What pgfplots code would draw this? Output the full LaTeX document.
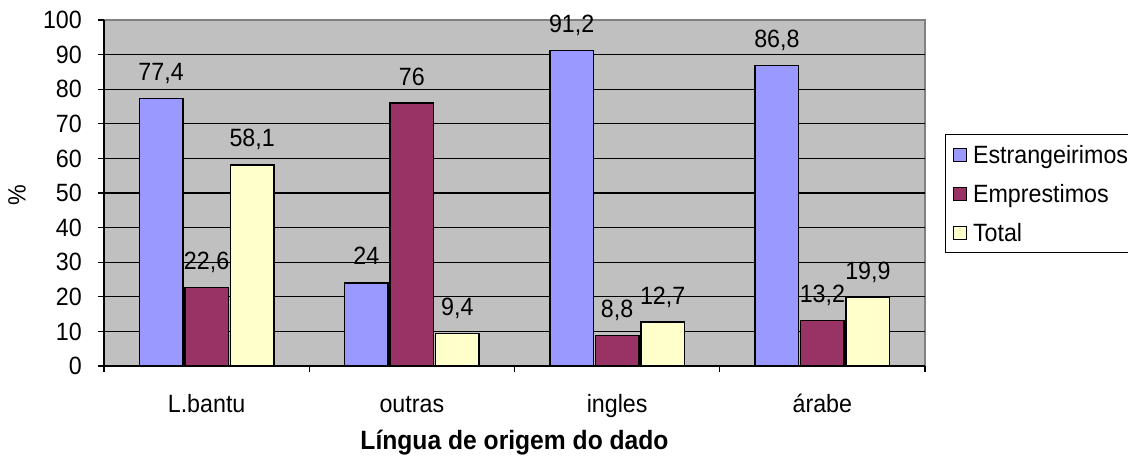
\documentclass[border=0pt]{standalone}
\usepackage{fontspec}
\setmainfont[FakeStretch=0.93]{Liberation Sans}
\usepackage{pgfplots}
\pgfplotsset{compat=1.18}
\definecolor{cblue}{HTML}{9999FF}
\definecolor{cmaroon}{HTML}{993366}
\definecolor{cyellow}{HTML}{FFFFCC}
\definecolor{cbg}{HTML}{C0C0C0}
\newcommand{\cf}{\fontsize{25}{28}\selectfont}
\begin{document}
\begin{tikzpicture}[x=1pt,y=1pt]
\useasboundingbox (0,0) rectangle (1128,458);
\begin{axis}[
  at={(104pt,92pt)}, anchor=south west,
  width=821pt, height=346pt, scale only axis,
  ybar=2pt, bar width=43.5pt,
  xmin=-0.5, xmax=3.5, ymin=0, ymax=100,
  clip=false,
  axis lines*=left,
  axis line style={black, line width=1.3pt},
  axis background/.style={fill=cbg, draw=gray, line width=1.2pt},
  xtick={0,1,2,3},
  xticklabels={L.bantu, outras, ingles, árabe},
  minor xtick={-0.5,0.5,1.5,2.5,3.5},
  ytick={0,10,...,90},
  extra y ticks={100},
  extra y tick style={grid=none},
  ymajorgrids, grid style={black, line width=1.3pt},
  tick align=outside,
  major tick length=6pt, minor tick length=6pt,
  x tick style={draw=none},
  minor x tick style={draw=black, line width=1.3pt},
  y tick style={black, line width=1.3pt},
  /pgf/number format/assume math mode=true,
  /pgf/number format/use comma, /pgf/number format/fixed, /pgf/number format/precision=1,
  ticklabel style={font=\cf},
  yticklabel style={anchor=east, inner sep=0pt, xshift=-16pt},
  xticklabel style={anchor=base, inner sep=0pt, yshift=-40pt},
  xlabel={\textbf{Língua de origem do dado}},
  xlabel style={font=\fontsize{26.5}{30}\selectfont, at={(axis description cs:0.5,-0.222)}, anchor=center},
  ylabel={\%},
  ylabel style={font=\cf, at={(axis description cs:-0.106,0.494)}, anchor=center},
  nodes near coords,
  every node near coord/.append style={font=\cf, anchor=base, inner sep=0pt, yshift=18pt, black},
  legend style={at={(1.0244,0.6705)}, anchor=north west, draw=black, line width=1pt, fill=white,
    font=\cf, inner xsep=7pt, inner ysep=11pt, row sep=21pt,
    nodes={inner sep=0pt, text height=18pt, text depth=0pt, anchor=base west}},
  legend cell align=left,
  legend image code/.code={\path[draw=none,fill=none] (0pt,9pt) rectangle (20pt,9pt); \draw[#1, draw=black, line width=1pt] (0pt,2.5pt) rectangle (13pt,15.5pt);},
  every axis plot/.append style={draw=black, line width=1.3pt},
]
\addplot[fill=cblue] coordinates {(0,77.4) (1,24) (2,91.2) (3,86.8)};
\addplot[fill=cmaroon] coordinates {(0,22.6) (1,76) (2,8.8) (3,13.2)};
\addplot[fill=cyellow] coordinates {(0,58.1) (1,9.4) (2,12.7) (3,19.9)};
\legend{Estrangeirimos, Emprestimos, Total}
\end{axis}
\end{tikzpicture}
\end{document}
